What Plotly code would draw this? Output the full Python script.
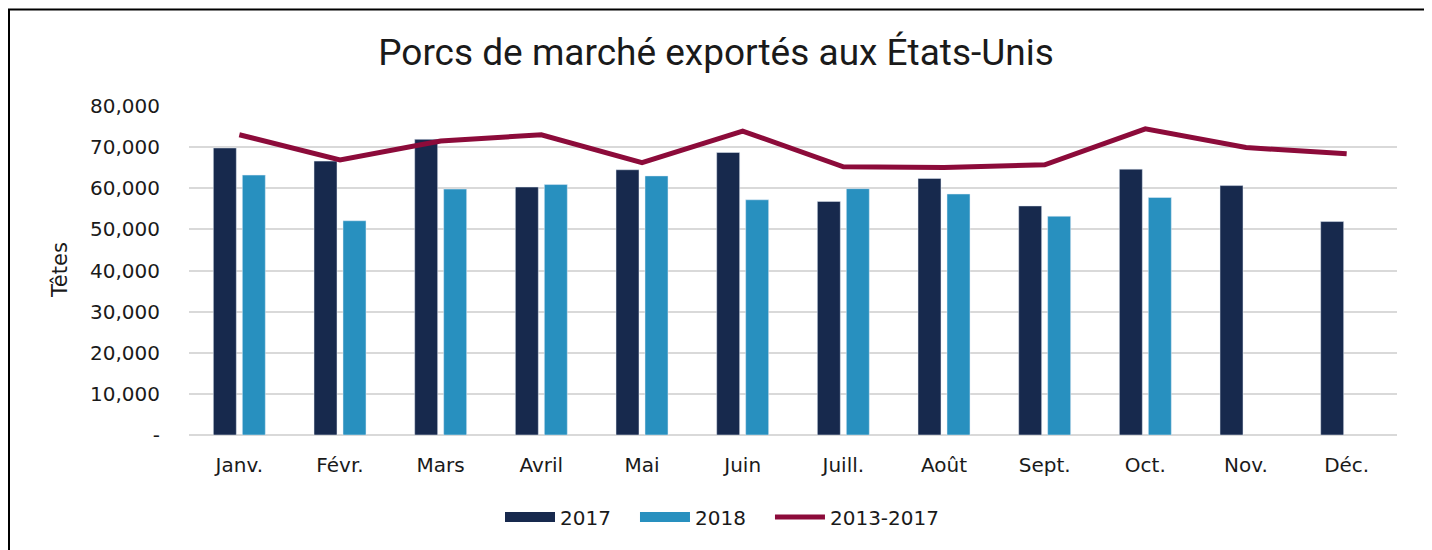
import plotly.graph_objects as go

months = ["Janv.", "Févr.", "Mars", "Avril", "Mai", "Juin", "Juill.", "Août", "Sept.", "Oct.", "Nov.", "Déc."]
v2017 = [69800, 66600, 71900, 60300, 64500, 68700, 56800, 62400, 55700, 64650, 60650, 51900]
v2018 = [63200, 52100, 59800, 60900, 63000, 57200, 59900, 58600, 53200, 57750, None, None]
avg_2013_2017 = [73000, 66900, 71500, 73000, 66200, 73900, 65200, 65050, 65700, 74450, 69900, 68400]

y_tickvals = [0, 10000, 20000, 30000, 40000, 50000, 60000, 70000, 80000]
y_ticktext = ["-", "10,000", "20,000", "30,000", "40,000", "50,000", "60,000", "70,000", "80,000"]

C2017 = "#17294D"
C2018 = "#2890BF"
CAVG = "#8C0B3A"
FONT = "DejaVu Sans"
TITLE_FONT = "Roboto, sans-serif"
PAD = "\u00a0\u00a0\u00a0"

fig = go.Figure()
fig.add_trace(go.Bar(name="2017", x=months, y=v2017, marker=dict(color=C2017), showlegend=False))
fig.add_trace(go.Bar(name="2018", x=months, y=v2018, marker=dict(color=C2018), showlegend=False))
fig.add_trace(go.Scatter(name="2013-2017", x=months, y=avg_2013_2017, mode="lines",
                         line=dict(color=CAVG, width=5), showlegend=False))
# legend keys (wide rectangles like the original)
fig.add_trace(go.Scatter(name="2017" + PAD, x=[None], y=[None], mode="lines",
                         line=dict(color=C2017, width=12), legendrank=1))
fig.add_trace(go.Scatter(name="2018" + PAD, x=[None], y=[None], mode="lines",
                         line=dict(color=C2018, width=12), legendrank=2))
fig.add_trace(go.Scatter(name="2013-2017", x=[None], y=[None], mode="lines",
                         line=dict(color=CAVG, width=5), legendrank=3))

# page body has an 8px margin in the browser; figure is sized to fit
W, H = 1424, 542
L, R, T, B = 181, 35, 98, 115
pw, ph = W - L - R, H - T - B

def px_x(x):
    return (x - 8 - L) / pw

def px_y(y):
    return (H - B - (y - 8)) / ph

fig.update_layout(
    width=W, height=H,
    margin=dict(l=L, r=R, t=T, b=B, pad=0),
    paper_bgcolor="white", plot_bgcolor="white",
    font=dict(family=FONT, size=20, color="#1a1a1a"),
    barmode="group", bargap=0.424, bargroupgap=0.207,
    title=dict(text="Porcs de marché exportés aux États-Unis",
               font=dict(family=TITLE_FONT, size=37, color="#1a1a1a"),
               x=(716 - 8) / W, xref="container", xanchor="center",
               y=1 - (52 - 8) / H, yref="container", yanchor="middle"),
    showlegend=True,
    legend=dict(orientation="h", xref="container", yref="container",
                x=(722 - 8) / W, xanchor="center", y=1 - (517 - 8) / H, yanchor="middle",
                font=dict(family=FONT, size=20, color="#1a1a1a"),
                traceorder="normal", itemwidth=50,
                bgcolor="rgba(0,0,0,0)"),
    xaxis=dict(type="category", showgrid=False, showline=False, ticks="",
               ticklabelstandoff=16, tickfont=dict(family=FONT, size=20)),
    yaxis=dict(range=[0, 80000], tickvals=y_tickvals, ticktext=y_ticktext,
               showgrid=True, gridcolor="#D9D9D9", gridwidth=1.5,
               zeroline=True, zerolinecolor="#D9D9D9", zerolinewidth=1.5,
               showline=False, ticks="", ticklabelstandoff=28,
               tickfont=dict(family=FONT, size=20)),
    annotations=[dict(text="Têtes", xref="paper", yref="paper",
                      x=px_x(60), y=px_y(270), textangle=-90,
                      showarrow=False, xanchor="center", yanchor="middle",
                      font=dict(family=FONT, size=21, color="#1a1a1a"))],
    shapes=[dict(type="rect", xref="paper", yref="paper",
                 x0=px_x(9), x1=px_x(1425), y0=px_y(575), y1=px_y(9.5),
                 line=dict(color="black", width=2), fillcolor="rgba(0,0,0,0)",
                 layer="above")],
)

fig.write_html("out.html")
